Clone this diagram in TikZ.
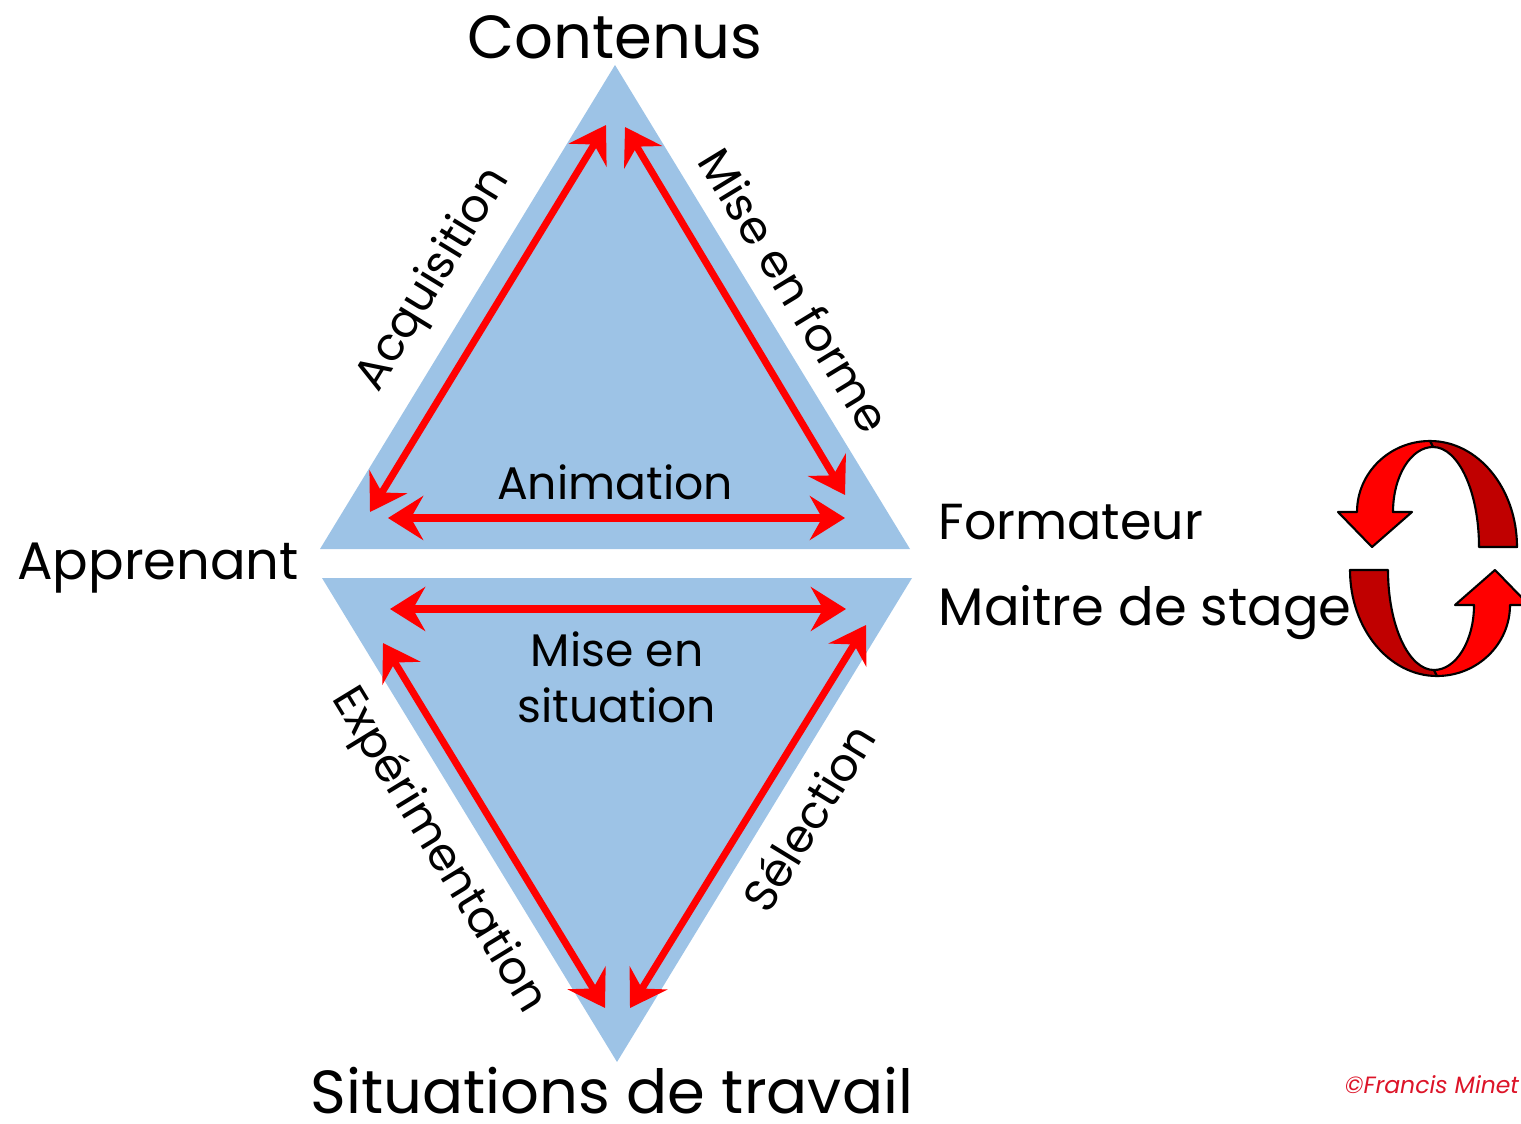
\documentclass[tikz,border=0pt]{standalone}
\usepackage{fontspec}
\setmainfont{Poppins}
\usetikzlibrary{arrows.meta}
\definecolor{triblue}{RGB}{157,195,230}
\definecolor{darkred}{RGB}{192,0,0}
\definecolor{signred}{RGB}{220,20,40}
\tikzset{
  relation/.style={draw=red, line width=2pt,
    {Stealth[length=10pt,width=12.5pt,inset=3.5pt]}-{Stealth[length=10pt,width=12.5pt,inset=3.5pt]}},
  pole/.style={font=\fontsize{15}{16}\selectfont, inner sep=0pt},
  bigpole/.style={font=\fontsize{17.3}{20}\selectfont, inner sep=0pt},
  edgelabel/.style={font=\fontsize{13}{16}\selectfont, inner sep=0pt},
  ribbon/.style={draw=black, line width=0.6pt, line join=round},
}

\begin{document}
\begin{tikzpicture}[x=0.01cm,y=0.01cm]
    \useasboundingbox (0,0) rectangle (1521,1123);
    % the two triangles
    \fill[triblue] (615,1058) -- (910,574) -- (320,574) -- cycle;
    \fill[triblue] (322,545) -- (912,545) -- (617,61) -- cycle;
    % arrow ends
    \coordinate (acqlow) at (370,611);
    \coordinate (acqtop) at (606,998);
    \coordinate (formtop) at (625,996);
    \coordinate (formlow) at (845,628);
    \coordinate (animleft) at (388,605);
    \coordinate (animright) at (845,605);
    \coordinate (sitleft) at (390,514);
    \coordinate (sitright) at (846,514);
    \coordinate (exptop) at (383,480);
    \coordinate (explow) at (605,115);
    \coordinate (seltop) at (866,498);
    \coordinate (sellow) at (630,115);
    \draw[relation] (acqlow) -- (acqtop);
    \draw[relation] (formtop) -- (formlow);
    \draw[relation] (animleft) -- (animright);
    \draw[relation] (sitleft) -- (sitright);
    \draw[relation] (exptop) -- (explow);
    \draw[relation] (seltop) -- (sellow);
    % labels
    \node[bigpole] (contenus) at (615,1086) {Contenus};
    \node[bigpole] (travail) at (612,32) {Situations de travail};
    \node[pole] (apprenant) at (158,555) {Apprenant};
    \node[pole,anchor=west,font=\fontsize{14.4}{16}\selectfont] (formateur) at (938,601) {Formateur};
    \node[pole,anchor=west] (maitre) at (938,510) {Maitre de stage};
    \node[edgelabel] (animation) at (615,641) {Animation};
    \node[edgelabel,align=center] (situation) at (617,446) {Mise en\\situation};
    \node[edgelabel,rotate=58.6] (acquisition) at (434,843) {Acquisition};
    \node[edgelabel,rotate=-58.6] (forme) at (795,833) {Mise en forme};
    \node[edgelabel,rotate=-58.6] (experimentation) at (438,272) {Expérimentation};
    \node[edgelabel,rotate=58.6] (selection) at (808,306) {Sélection};
    \node[font=\fontsize{6.7}{8}\selectfont\itshape, text=signred] (signature) at (1432,38) {©Francis Minet};
    % cycle arrows
    \filldraw[ribbon,fill=darkred] (1430,682) arc[start angle=90,end angle=0,x radius=87,y radius=106]
        -- (1479,576) arc[start angle=0,end angle=90,x radius=46,y radius=100] -- cycle;
    \filldraw[ribbon,fill=red] (1357,611) arc[start angle=180,end angle=90,x radius=73,y radius=71]
        -- (1433,676) arc[start angle=90,end angle=180,x radius=40,y radius=65]
        -- (1412,611) -- (1372,576) -- (1338,611) -- cycle;
    \filldraw[ribbon,fill=darkred] (1437,447) arc[start angle=270,end angle=180,x radius=87,y radius=106]
        -- (1388,553) arc[start angle=180,end angle=270,x radius=46,y radius=100] -- cycle;
    \filldraw[ribbon,fill=red] (1510,518) arc[start angle=0,end angle=-90,x radius=73,y radius=71]
        -- (1434,453) arc[start angle=270,end angle=360,x radius=40,y radius=65]
        -- (1455,518) -- (1495,553) -- (1529,518) -- cycle;
\end{tikzpicture}
\end{document}
